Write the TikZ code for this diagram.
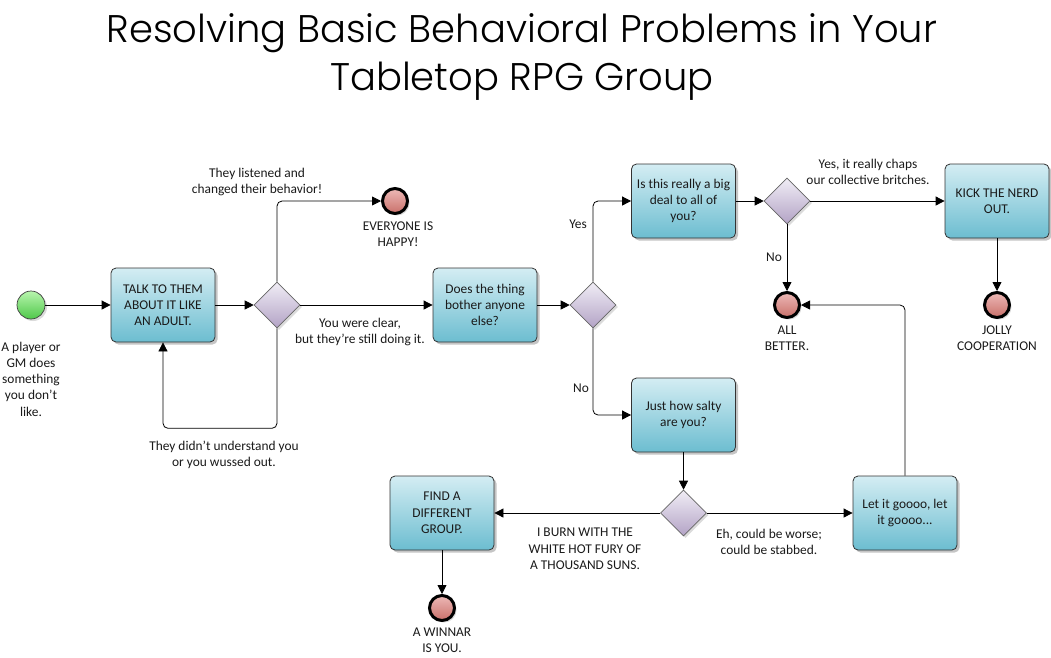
\documentclass[tikz,border=0pt]{standalone}
\usepackage{fontspec}
\setmainfont{Carlito}
\newfontfamily\titlefont{Poppins}[UprightFont=* Light]
\usetikzlibrary{shapes.geometric,arrows.meta,shadows}
\definecolor{taskTop}{HTML}{D4EDF3}
\definecolor{taskBot}{HTML}{6CBDD0}
\definecolor{gwTop}{HTML}{F0EDF5}
\definecolor{gwBot}{HTML}{B3A3C6}
\definecolor{endTop}{HTML}{EDB9B7}
\definecolor{endBot}{HTML}{C9706A}
\definecolor{stTop}{HTML}{B8F5AE}
\definecolor{stBot}{HTML}{4FC84A}
\definecolor{txt}{HTML}{1A1A1A}
\tikzset{
  base/.style={font=\fontsize{13.4}{16.3}\selectfont, text=txt},
  task/.style={base, draw=black!80, line width=0.8pt, rounded corners=5pt,
    top color=taskTop, bottom color=taskBot, minimum width=104pt, minimum height=74pt,
    align=center, inner sep=2pt,
    drop shadow={shadow xshift=2.5pt, shadow yshift=-2.5pt, fill=black!45, opacity=0.5}},
  gw/.style={diamond, draw=black!60, line width=0.6pt, top color=gwTop, bottom color=gwBot,
    minimum width=46pt, minimum height=46pt, inner sep=0pt, aspect=1,
    drop shadow={shadow xshift=2pt, shadow yshift=-2pt, fill=black!35, opacity=0.4}},
  endev/.style={circle, draw=black, line width=3pt, top color=endTop, bottom color=endBot,
    minimum size=25pt, inner sep=0pt,
    drop shadow={shadow xshift=2pt, shadow yshift=-2pt, fill=black!35, opacity=0.4}},
  startev/.style={circle, draw=black!75, line width=0.7pt, top color=stTop, bottom color=stBot,
    minimum size=28pt, inner sep=0pt,
    drop shadow={shadow xshift=2pt, shadow yshift=-2pt, fill=black!35, opacity=0.4}},
  lbl/.style={base, align=center, inner sep=0pt},
  arr/.style={line width=0.8pt, -{Triangle[length=9pt,width=9pt]}, rounded corners=5pt}
}
\begin{document}
\begin{tikzpicture}[x=1pt,y=-1pt]
\useasboundingbox[fill=white] (0,0) rectangle (1051,657);

\node[font=\titlefont\fontsize{38.5}{48}\selectfont, text=black, align=center] (title) at (522,57)
  {Resolving Basic Behavioral Problems in Your\\Tabletop RPG Group};

% events and tasks
\node[startev] (s) at (31,305) {};
\node[task] (t1) at (163,305) {TALK TO THEM\\ABOUT IT LIKE\\AN ADULT.};
\node[gw] (d1) at (277,305) {};
\node[endev] (e1) at (395,201) {};
\node[task] (t2) at (485,305) {Does the thing\\bother anyone\\else?};
\node[gw] (d2) at (593,305) {};
\node[task] (t3) at (683.5,201) {Is this really a big\\deal to all of\\you?};
\node[task] (t4) at (683.5,415) {Just how salty\\are you?};
\node[gw] (d3) at (787,201) {};
\node[task] (t5) at (997,201) {KICK THE NERD\\OUT.};
\node[endev] (e2) at (787,305) {};
\node[endev] (e3) at (997,305) {};
\node[gw] (d4) at (683.5,513) {};
\node[task] (t6) at (442,513) {FIND A\\DIFFERENT\\GROUP.};
\node[task] (t7) at (905,513) {Let it goooo, let\\it goooo...};
\node[endev] (e4) at (442,608) {};

% labels
\node[lbl] (ls) at (31,379) {A player or\\GM does\\something\\you don’t\\like.};
\node[lbl] (l1) at (257,182) {They listened and\\changed their behavior!};
\node[lbl] (le1) at (398,234) {EVERYONE IS\\HAPPY!};
\node[lbl] (l2) at (360,332) {You were clear,\\but they’re still doing it.};
\node[lbl] (l3) at (224,455) {They didn’t understand you\\or you wussed out.};
\node[lbl] (lyes) at (578,224) {Yes};
\node[lbl] (lno) at (581,388) {No};
\node[lbl] (l4) at (868,172) {Yes, it really chaps\\our collective britches.};
\node[lbl] (lno2) at (774,257) {No};
\node[lbl] (le2) at (787,338) {ALL\\BETTER.};
\node[lbl] (le3) at (997,338) {JOLLY\\COOPERATION};
\node[lbl] (l5) at (585,549) {I BURN WITH THE\\WHITE HOT FURY OF\\A THOUSAND SUNS.};
\node[lbl] (l6) at (769,542) {Eh, could be worse;\\could be stabbed.};
\node[lbl] (le4) at (442,640) {A WINNAR\\IS YOU.};

% connectors
\draw[arr] (s) -- (t1);
\draw[arr] (t1) -- (d1);
\draw[arr] (d1.north) |- (e1);
\draw[arr] (d1) -- (t2);
\draw[arr] (d1.south) -- ++(0,100) -| (t1.south);
\draw[arr] (t2) -- (d2);
\draw[arr] (d2.north) |- (t3);
\draw[arr] (d2.south) |- (t4);
\draw[arr] (t3) -- (d3);
\draw[arr] (d3) -- (t5);
\draw[arr] (d3) -- (e2);
\draw[arr] (t5) -- (e3);
\draw[arr] (t4) -- (d4);
\draw[arr] (d4) -- (t6);
\draw[arr] (d4) -- (t7);
\draw[arr] (t7.north) |- (e2);
\draw[arr] (t6) -- (e4);
\end{tikzpicture}
\end{document}
